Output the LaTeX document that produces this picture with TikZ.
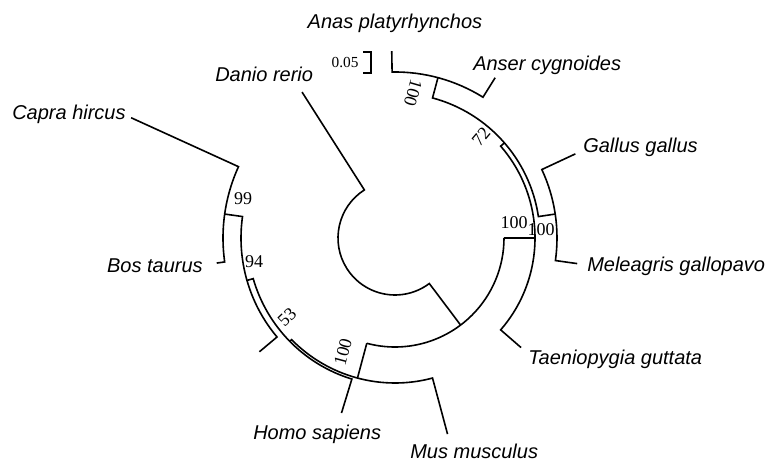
\documentclass[tikz,border=0pt]{standalone}
\usepackage{fontspec}
\setmainfont{Liberation Serif}
\setsansfont{Liberation Sans}

\begin{document}
\begin{tikzpicture}[x=0.75pt,y=0.75pt,line join=miter,
  branch/.style={line width=1.2pt},
  taxon/.style={font=\sffamily\itshape\fontsize{15}{18}\selectfont,inner sep=0pt},
  boot/.style={font=\fontsize{13.5}{15}\selectfont,inner sep=0pt}]
\useasboundingbox (0,0) rectangle (771,461);
% tree, polar around the root centre
\begin{scope}[shift={(395,223)},branch]
\draw (122.5:173) -- (122.5:57) arc[start angle=122.5,end angle=307,radius=57] -- (307:109);
\draw (255:109) arc[start angle=255,end angle=360,radius=109];
% birds
\draw (0:109) -- (0:140);
\draw (-41:167) -- (-41:140) arc[start angle=-41,end angle=41,radius=140] -- (41:145);
\draw (8.5:162) -- (8.5:145) arc[start angle=8.5,end angle=75,radius=145] -- (75:166);
\draw (25:199) -- (25:162) arc[start angle=25,end angle=-8,radius=162] -- (-8:184);
\draw (58:189) -- (58:166) arc[start angle=58,end angle=91,radius=166] -- (91:187);
% mammals
\draw (255:109) -- (255:145);
\draw (224.5:147.5) -- (224.5:145) arc[start angle=224.5,end angle=285,radius=145] -- (285:203);
\draw (196:154) -- (196:147.5) arc[start angle=196,end angle=253,radius=147.5] -- (253:183);
\draw (220:177) -- (220:154) arc[start angle=220,end angle=172,radius=154] -- (172:172);
\draw (155.5:290) -- (155.5:172) arc[start angle=155.5,end angle=188,radius=172] -- (188:180);
\end{scope}
% scale bar
\draw[branch] (363,409) -- (371,409) -- (371,388) -- (363,388);
\node[boot,font=\fontsize{11.5}{13}\selectfont] (scale) at (345,398) {0.05};
% taxa
\node[taxon,anchor=base] (anas) at (395,432) {Anas platyrhynchos};
\node[taxon,anchor=base west] (anser) at (473,390) {Anser cygnoides};
\node[taxon,anchor=base west] (danio) at (215,379) {Danio rerio};
\node[taxon,anchor=base west] (capra) at (12,341) {Capra hircus};
\node[taxon,anchor=base east] (bos) at (203,189) {Bos taurus};
\node[taxon,anchor=base west] (homo) at (253,22) {Homo sapiens};
\node[taxon,anchor=base west] (mus) at (410,3) {Mus musculus};
\node[taxon,anchor=base west] (gallus) at (583,308) {Gallus gallus};
\node[taxon,anchor=base west] (meleagris) at (587,190) {Meleagris gallopavo};
\node[taxon,anchor=base west] (taenio) at (528,97) {Taeniopygia guttata};
% bootstrap values
\node[boot] (b99) at (243,262) {99};
\node[boot] (b94) at (254,199) {94};
\node[boot,rotate=44] (b53) at (287,144) {53};
\node[boot,rotate=75] (bhomo) at (343,109) {100};
\node[boot] (bbird) at (514,238) {100};
\node[boot] (bgall) at (541,231) {100};
\node[boot,rotate=50] (b72) at (481,324) {72};
\node[boot,rotate=-106] (banser) at (413,368) {100};
\end{tikzpicture}
\end{document}
